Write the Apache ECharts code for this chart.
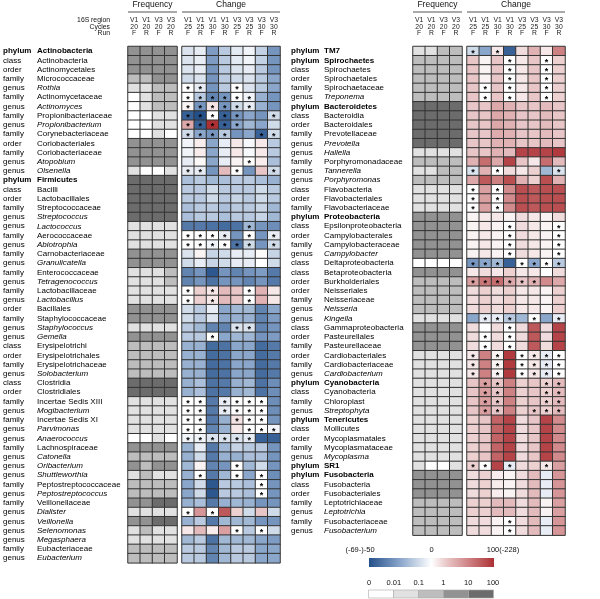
<!DOCTYPE html>
<html><head><meta charset="utf-8">
<script src="https://cdn.jsdelivr.net/npm/echarts@6.0.0/dist/echarts.min.js"></script>
<style>html,body{margin:0;padding:0;background:#fff}#c{width:600px;height:599px}</style>
</head><body><div id="c"></div>
<script>
const FONT = '"Liberation Sans", Arial, sans-serif';

const freqCols = ['V1|20|F','V1|20|R','V3|20|F','V3|20|R'];
const changeCols = ['V1|25|F','V1|25|R','V1|30|F','V1|30|R','V3|25|F','V3|25|R','V3|30|F','V3|30|R'];
const headerRowLabels = ['16S region','Cycles','Run'];
const freqLegendTicks = ['0','0.01','0.1','1','10','100'];
const freqBins = [0.01,0.1,1,10];
const changeLegendTicks = ['(-69-)-50','0','100(-228)'];

const leftRanks = ['phylum','class','order','family','genus','family','genus','family','genus','family','order','family','genus','genus',
 'phylum','class','order','family','genus','genus','family','genus','family','genus','family','genus','family','genus',
 'order','family','genus','genus','class','order','family','genus','class','order','family','genus','family','genus','genus',
 'family','genus','genus','genus','family','genus','family','genus','genus','genus','genus','family','genus'];
const leftNames = ['Actinobacteria','Actinobacteria','Actinomycetales','Micrococcaceae','Rothia','Actinomycetaceae','Actinomyces',
 'Propionibacteriaceae','Propionibacterium','Corynebacteriaceae','Coriobacteriales','Coriobacteriaceae','Atopobium','Olsenella',
 'Firmicutes','Bacilli','Lactobacillales','Streptococcaceae','Streptococcus','Lactococcus','Aerococcaceae','Abiotrophia',
 'Carnobacteriaceae','Granulicatella','Enterococcaceae','Tetragenococcus','Lactobacillaceae','Lactobacillus',
 'Bacillales','Staphylococcaceae','Staphylococcus','Gemella','Erysipelotrichi','Erysipelotrichales','Erysipelotrichaceae',
 'Solobacterium','Clostridia','Clostridiales','Incertae Sedis XIII','Mogibacterium','Incertae Sedis XI','Parvimonas',
 'Anaerococcus','Lachnospiraceae','Catonella','Oribacterium','Shuttleworthia','Peptostreptococcaceae','Peptostreptococcus',
 'Veillonellaceae','Dialister','Veillonella','Selenomonas','Megasphaera','Eubacteriaceae','Eubacterium'];
const leftFreq = [
 [5,5,5,5],[5,5,5,5],[5,5,5,5],[0.5,0.5,5,5],[0.05,0.05,0.5,0.5],[0.005,0.05,0.5,0.5],[0.005,0.05,0.5,0.5],
 [0.005,0.005,0.05,0.05],[0.005,0.005,0.05,0.05],[0.005,0.005,0.05,0.005],[5,5,5,5],[5,5,5,5],[5,5,5,5],[0.05,0.005,0.005,0.05],
 [30,30,30,30],[30,30,30,30],[30,30,30,30],[30,30,30,30],[30,30,30,30],[0.05,0.05,0.05,0.05],[0.05,0.05,0.05,0.05],[0.05,0.05,0.05,0.05],
 [5,5,5,5],[5,5,5,5],[0.05,0.05,0.05,0.5],[0.05,0.05,0.05,0.5],[0.05,0.05,0.05,0.05],[0.05,0.05,0.05,0.05],
 [5,5,5,5],[5,5,5,5],[0.05,0.05,0.05,0.05],[5,5,5,5],[0.5,0.5,0.5,0.5],[0.5,0.5,0.5,0.5],[0.5,0.5,0.5,0.5],[0.5,0.5,0.5,0.5],
 [30,30,30,30],[30,30,30,30],[0.05,0.05,0.05,0.05],[0.05,0.05,0.05,0.05],[0.05,0.05,0.05,0.05],[0.05,0.05,0.05,0.05],
 [0.005,0.005,0.05,0.005],[5,5,5,5],[0.5,0.5,0.5,0.5],[5,0.5,5,5],[0.05,0.5,0.05,0.05],[0.5,0.5,0.5,0.5],[0.5,0.5,0.5,0.5],
 [5,5,30,30],[0.05,0.05,0.05,0.05],[5,5,30,30],[0.05,0.5,0.05,0.05],[0.05,0.05,0.05,0.05],[0.5,0.5,0.5,0.5],[0.5,0.5,0.5,0.5]];
const leftChange = [
 [-8,-5,-28,-15,-6,-3,-13,-30],[-8,-5,-28,-15,-6,-3,-13,-30],[-8,-5,-30,-15,-8,-5,-15,-30],[-10,-8,-30,-15,-10,-8,-15,-25],
 [0,-5,-30,-15,0,-8,-15,-25],[0,-15,-35,-30,0,-3,-22,-30],[5,-30,12,-30,-10,-5,-22,-30],[-45,-50,0,-45,-30,-25,-30,-10],
 [40,-45,100,-45,-25,-20,-25,-10],[-10,-25,-30,-15,-30,-25,-45,-10],[-3,8,-25,-5,10,-2,10,-15],[-3,8,-25,-5,10,-2,10,-15],
 [-5,3,-25,-5,5,0,8,-18],[-5,-5,-30,30,0,-30,25,-10],
 [-18,-15,-20,-18,-15,-15,-18,-22],[-15,-15,-10,-15,-15,-15,-10,-15],[-15,-15,-10,-15,-12,-15,-10,-15],
 [-18,-15,-15,-18,-15,-15,-12,-20],[-18,-15,-15,-18,-15,-15,-12,-20],[-38,-38,-40,-42,-40,-20,-30,-32],
 [0,0,0,-5,-30,0,-30,-5],[0,0,-3,0,-40,-10,-30,-10],[-8,5,-12,-10,-5,-5,2,-12],[-10,-5,-12,-10,-5,-5,0,-10],
 [-35,-30,-48,-30,-35,-30,-28,-38],[-35,-30,-40,-30,-30,-35,-30,-38],[0,20,10,30,25,0,35,10],[0,20,10,30,25,0,35,10],
 [-10,-15,-5,-25,-20,-20,-35,-25],[-10,-15,-8,-25,-22,-22,-35,-28],[-15,-20,-35,-35,-8,-8,-35,-30],[-15,-15,0,-25,-20,-20,-30,-28],
 [-22,-22,-42,-40,-25,-25,-42,-38],[-22,-22,-42,-40,-25,-25,-42,-38],[-22,-22,-42,-40,-25,-25,-42,-38],[-22,-22,-42,-40,-25,-25,-42,-38],
 [-22,-18,-40,-38,-22,-20,-40,-32],[-22,-18,-40,-38,-22,-20,-40,-32],[0,0,-38,-5,0,0,0,-32],[0,0,-38,-5,0,0,0,-32],
 [0,0,-38,-22,12,0,0,-30],[0,0,-35,-22,10,0,0,-3],[-3,-3,-8,-8,-8,-5,-45,-45],[-22,-5,-38,-20,-12,-15,-15,-30],
 [-22,-10,-38,-22,-22,-18,-18,-30],[-20,5,-35,-30,0,-20,-10,-30],[-22,0,-38,-20,0,-25,0,-32],[-25,-10,-48,-15,-15,-18,0,-30],
 [-25,-10,-48,-15,-15,-18,0,-30],[-22,-18,-38,-22,-20,-22,-30,-30],[0,50,0,80,20,-10,25,-10],[-22,-15,-38,-20,-20,-20,-30,-30],
 [10,30,8,45,0,-15,0,-10],[-20,-15,-40,-20,-20,-20,-25,-28],[-15,-15,-35,-20,-15,-15,-25,-25],[-15,-15,-35,-20,-15,-15,-25,-25]];
const leftStars = [[],[],[],[],[1,2,5],[1,2,3,4,5,6],[1,2,3,4,5,6],[1,2,3,4,5,8],[1,2,3,4,5],[1,2,3,4,7,8],[],[],[6],[1,2,5,8],
 [],[],[],[],[],[6],[1,2,3,4,6,8],[1,2,3,4,5,6,8],[],[],[],[],[1,3,6],[1,3,6],
 [],[],[5,6],[3],[],[],[],[],[],[],[1,2,4,5,6,7],[1,2,4,5,6,7],[1,2,5,6,7],[1,2,6,7,8],[1,2,3,4,5,6],
 [],[],[5],[2,5,7],[7],[7],[],[1,3],[],[5,7],[],[],[]];

const rightRanks = ['phylum','phylum','class','order','family','genus','phylum','class','order','family','genus','genus','family',
 'genus','genus','class','order','family','phylum','class','order','family','genus','class','class','order','order','family','genus',
 'genus','class','order','family','order','family','genus','phylum','class','family','genus','phylum','class','order','family','genus',
 'phylum','phylum','class','order','family','genus','family','genus'];
const rightNames = ['TM7','Spirochaetes','Spirochaetes','Spirochaetales','Spirochaetaceae','Treponema','Bacteroidetes','Bacteroidia',
 'Bacteroidales','Prevotellaceae','Prevotella','Hallella','Porphyromonadaceae','Tannerella','Porphyromonas','Flavobacteria',
 'Flavobacteriales','Flavobacteriaceae','Proteobacteria','Epsilonproteobacteria','Campylobacterales','Campylobacteraceae',
 'Campylobacter','Deltaproteobacteria','Betaproteobacteria','Burkholderiales','Neisseriales','Neisseriaceae','Neisseria','Kingella',
 'Gammaproteobacteria','Pasteurellales','Pasteurellaceae','Cardiobacteriales','Cardiobacteriaceae','Cardiobacterium','Cyanobacteria',
 'Cyanobacteria','Chloroplast','Streptophyta','Tenericutes','Mollicutes','Mycoplasmatales','Mycoplasmataceae','Mycoplasma','SR1',
 'Fusobacteria','Fusobacteria','Fusobacteriales','Leptotrichiaceae','Leptotrichia','Fusobacteriaceae','Fusobacterium'];
const rightFreq = [
 [0.05,0.05,0.5,0.5],[0.5,0.5,0.5,0.5],[0.5,0.5,0.5,0.5],[0.5,0.5,0.5,0.5],[0.5,0.5,0.5,0.5],[0.5,0.5,0.5,0.5],
 [30,30,30,30],[30,30,30,30],[30,30,30,30],[30,30,30,30],[30,30,30,30],[0.05,0.05,0.05,0.05],[0.5,0.5,0.5,0.5],
 [0.05,0.05,0.5,0.5],[0.5,0.5,0.5,0.5],[0.05,0.05,0.05,0.05],[0.05,0.05,0.05,0.05],[0.05,0.05,0.05,0.05],
 [5,5,5,5],[5,5,5,5],[5,5,5,5],[5,5,5,5],[5,5,5,5],[0.005,0.005,0.005,0.005],[5,5,5,5],[0.5,0.5,0.5,0.5],
 [0.5,0.5,0.5,0.5],[0.5,0.5,0.5,0.5],[0.5,0.5,0.5,0.5],[0.05,0.05,0.05,0.05],[5,5,5,5],[5,5,5,5],[5,5,5,5],
 [0.05,0.05,0.05,0.05],[0.05,0.05,0.05,0.05],[0.05,0.05,0.05,0.05],[0.05,0.05,0.05,0.05],[0.05,0.05,0.05,0.05],[0.05,0.05,0.05,0.05],
 [0.05,0.05,0.05,0.05],[0.05,0.05,0.05,0.05],[0.05,0.05,0.05,0.05],[0.05,0.05,0.05,0.05],[0.05,0.05,0.05,0.05],[0.05,0.05,0.05,0.05],
 [0.05,0.005,0.005,0.05],[5,5,5,5],[5,5,5,5],[5,5,5,5],[0.5,0.5,0.5,0.5],[0.5,0.5,0.5,0.5],[0.5,0.5,0.5,0.5],[0.5,0.5,0.5,0.5]];
const rightChange = [
 [-10,-25,10,-45,15,35,10,60],[25,5,25,0,10,25,0,20],[25,5,25,0,10,25,0,20],[25,5,25,0,10,25,0,20],[25,0,25,0,10,25,0,20],[25,0,25,0,10,25,0,20],
 [25,25,40,35,25,25,30,25],[25,25,40,35,25,25,30,25],[25,25,40,35,25,25,30,25],[25,25,38,35,25,25,30,25],[25,25,35,35,25,25,30,25],
 [25,25,35,30,90,90,90,95],[35,70,40,90,25,10,70,30],[-8,35,0,15,10,20,-20,-8],[40,80,60,85,35,20,85,35],
 [0,45,0,55,85,80,85,85],[0,45,0,55,85,80,85,85],[0,45,0,55,85,80,85,85],[5,10,10,5,15,10,5,15],
 [5,10,5,0,15,10,5,0],[5,10,5,0,15,10,5,0],[5,10,5,0,15,10,5,0],[5,10,5,0,15,10,5,0],[-30,-25,-20,-45,0,-25,0,-15],
 [10,15,10,20,10,10,0,15],[45,65,70,40,25,35,55,40],[15,20,15,20,10,10,5,20],[15,20,15,20,10,10,5,20],[15,20,15,20,10,10,5,20],
 [-25,-5,-5,-15,-20,0,-25,-5],[15,0,15,0,15,80,15,90],[15,0,15,0,15,80,15,90],[15,0,15,0,15,80,15,90],
 [10,60,5,95,0,10,-5,0],[10,60,5,95,0,10,-5,0],[10,60,5,95,0,10,-5,0],
 [25,45,25,60,20,25,20,30],[25,45,25,60,20,25,20,30],[25,45,25,60,20,25,20,30],[25,45,25,60,20,25,20,30],
 [20,25,75,90,15,25,90,55],[20,25,75,90,15,25,90,55],[20,25,75,90,15,25,90,55],[20,25,75,90,15,25,90,55],[20,25,75,90,15,25,90,55],
 [20,0,90,-5,15,20,10,45],[15,20,8,5,15,30,-5,50],[15,20,8,5,15,30,-5,50],[15,20,8,5,15,30,-5,50],
 [20,20,30,30,15,30,5,45],[20,20,30,30,15,30,5,45],[15,15,5,0,15,30,-5,50],[15,15,5,0,15,30,-5,50]];
const rightStars = [[1,3],[4,7],[4,7],[4,7],[2,4,7],[2,4,7],[],[],[],[],[],[],[],[1,3,8],[],[1,3],[1,3],[1,3],[],
 [4,8],[4,8],[4,8],[4,8],[1,2,3,5,6,7,8],[],[1,2,3,4,5,6],[],[],[],[2,3,4,6,8],[4],[2,4],[2,4],
 [1,3,5,6,7,8],[1,3,5,6,7,8],[1,3,5,6,7,8],[2,3,7,8],[2,3,7,8],[2,3,7,8],[2,3,6,7,8],[],[],[],[],[],[1,2,4,7],[],[],[],[],[],[4],[4]];

// ---- styling / layout ----
const TOP = 46.5, ROW = 9.22;
const FREQ_COLORS = ['#ffffff','#e1e1e1','#bdbdbd','#929292','#6c6c6c'];
const CHANGE_COLORS = ['#24508a','#8aa6cb','#ffffff','#e8c5c6','#d69597','#c26365','#ad3034'];
const panels = [
 {ranks:leftRanks, names:leftNames, freq:leftFreq, change:leftChange, stars:leftStars, fx:128, cx:182, rx:3, nx:37, header:true},
 {ranks:rightRanks, names:rightNames, freq:rightFreq, change:rightChange, stars:rightStars, fx:413, cx:467, rx:291, nx:324, header:false}
];

const grid=[], xAxis=[], yAxis=[], series=[], graphic=[];
const txt = (x,y,text,size,align,weight) => ({type:'text', x, y, silent:true,
  style:{text, font:(weight||'normal')+' '+size+'px '+FONT, fill:'#111', align:align||'center', verticalAlign:'middle',
         textAlign:align||'center', textVerticalAlign:'middle'}});
const line = (x1,y1,x2,y2) => ({type:'line', silent:true, shape:{x1,y1,x2,y2}, style:{stroke:'#555', lineWidth:1}});

panels.forEach((p, pi) => {
  const n = p.names.length;
  const h = n*ROW;
  const cats = p.names.map((_, i) => String(i));
  [['f', p.fx, 49, freqCols], ['c', p.cx, 98, changeCols]].forEach(([kind, left, width, cols]) => {
    const gi = grid.length;
    grid.push({left, top:TOP, width, height:h});
    xAxis.push({type:'category', gridIndex:gi, position:'top', data:cols,
      axisLine:{show:false}, axisTick:{show:false}, splitLine:{show:false},
      axisLabel:{interval:0, margin:10, fontSize:6.8, lineHeight:6.4, fontFamily:FONT, color:'#222',
        formatter:v => v.split('|').join('\n')}});
    const y = {type:'category', gridIndex:gi, data:cats, inverse:true,
      axisLine:{show:false}, axisTick:{show:false}, splitLine:{show:false}, axisLabel:{show:false}};
    if (kind === 'f') {
      const base = {fontSize:8, fontFamily:FONT, color:'#000'};
      y.axisLabel = {show:true, interval:0, align:'left', margin:left - p.rx,
        formatter:(v, i) => {
          const r = p.ranks[i], nm = p.names[i], b = r === 'phylum';
          return '{' + (b?'rb':'r') + '|' + r + '}{' + (b?'nb':(r==='genus'?'ni':'n')) + '|' + nm + '}';
        },
        rich:{ r:Object.assign({width:p.nx-p.rx}, base), rb:Object.assign({width:p.nx-p.rx, fontWeight:'bold'}, base),
               n:Object.assign({}, base), nb:Object.assign({fontWeight:'bold'}, base), ni:Object.assign({fontStyle:'italic'}, base)}};
    }
    yAxis.push(y);
    const data = [];
    const vals = kind === 'f' ? p.freq : p.change;
    vals.forEach((row, r) => row.forEach((v, c) => {
      if (kind === 'f') data.push([c, r, v]);
      else data.push([c, r, v, p.stars[r].includes(c+1) ? 1 : 0]);
    }));
    series.push({type:'heatmap', xAxisIndex:gi, yAxisIndex:gi, data,
      itemStyle:{borderColor:'#333', borderWidth:1}, emphasis:{disabled:true},
      label: kind === 'c' ? {show:true, formatter:q => q.data[3] ? '*' : '', fontSize:9, fontWeight:'bold',
        fontFamily:FONT, color:'#000', offset:[0,2]} : {show:false}});
  });
  graphic.push(txt(p.fx + 24.5, 5, 'Frequency', 8.5));
  graphic.push(line(p.fx, 12, p.fx + 49, 12));
  graphic.push(txt(p.cx + 49, 5, 'Change', 8.5));
  graphic.push(line(p.cx, 12, p.cx + 98, 12));
  if (p.header) {
    headerRowLabels.forEach((t, i) => graphic.push(txt(110, [20.6, 27, 33.4][i], t, 6.8, 'right')));
  }
});

const cbX = 369, cbW = 125;
graphic.push({type:'rect', silent:true, shape:{x:cbX, y:558, width:cbW, height:9},
  style:{fill:new echarts.graphic.LinearGradient(0,0,1,0,[
    {offset:0,color:CHANGE_COLORS[0]},{offset:0.25,color:CHANGE_COLORS[1]},{offset:0.5,color:CHANGE_COLORS[2]},
    {offset:0.625,color:CHANGE_COLORS[3]},{offset:0.75,color:CHANGE_COLORS[4]},{offset:0.875,color:CHANGE_COLORS[5]},
    {offset:1,color:CHANGE_COLORS[6]}])}});
changeLegendTicks.forEach((t, i) => graphic.push(txt([360, 431.5, 503][i], 550, t, 7.5)));
FREQ_COLORS.forEach((c, i) => graphic.push({type:'rect', silent:true, shape:{x:368.5 + i*25, y:590, width:25, height:8},
  style:{fill:c, stroke:'#aaa', lineWidth:0.6}}));
freqLegendTicks.forEach((t, i) => graphic.push(txt(369 + i*24.8, 583, t, 7.5)));

const pieces = [{lt:freqBins[0], color:FREQ_COLORS[0]}];
for (let i = 0; i < freqBins.length; i++) {
  pieces.push(i < freqBins.length-1 ? {gte:freqBins[i], lt:freqBins[i+1], color:FREQ_COLORS[i+1]} : {gte:freqBins[i], color:FREQ_COLORS[i+1]});
}

const chart = echarts.init(document.getElementById('c'), null, {renderer:'canvas'});
chart.setOption({
  animation:false,
  backgroundColor:'#fff',
  grid, xAxis, yAxis, series, graphic,
  visualMap:[
    {type:'piecewise', show:false, seriesIndex:[0,2], dimension:2, pieces},
    {type:'continuous', show:false, seriesIndex:[1,3], dimension:2, min:-50, max:100, inRange:{color:CHANGE_COLORS}}
  ]
});
</script>
</body></html>
